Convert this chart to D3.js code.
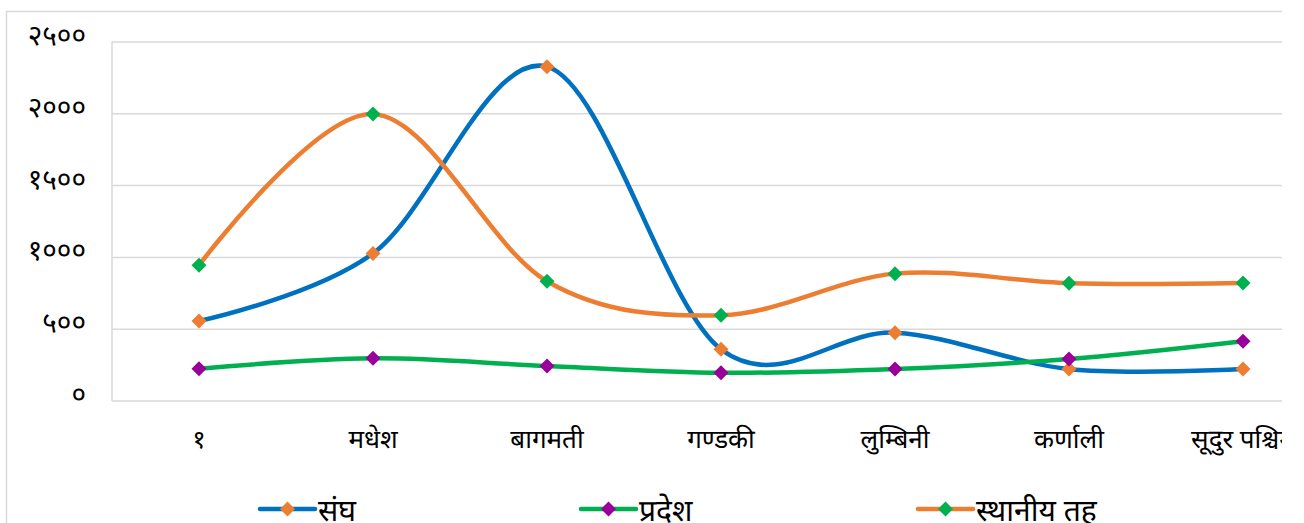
<!DOCTYPE html>
<html><head><meta charset="utf-8">
<script src="https://cdn.jsdelivr.net/npm/d3@7"></script>
<style>
html,body{margin:0;padding:0;background:#fff;}
svg{display:block;overflow:hidden;}
text{font-family:"Noto Sans Devanagari","Noto Sans","Lohit Devanagari","FreeSans",sans-serif;fill:#000;}
</style></head>
<body>
<script>
const categories = ["१","मधेश","बागमती","गण्डकी","लुम्बिनी","कर्णाली","सूदुर पश्चिम"];
const sangh = [557, 1028, 2328, 360, 476, 223, 223];
const pradesh = [225, 297, 244, 197, 223, 292, 416];
const sthaniya = [945, 1999, 834, 597, 887, 820, 822];
const seriesNames = ["संघ","प्रदेश","स्थानीय तह"];
const yTicks = [0,500,1000,1500,2000,2500];
const yTickLabels = ["०","५००","१०००","१५००","२०००","२५००"];

const W = 1282, H = 523;
const svg = d3.select("body").append("svg").attr("width", W).attr("height", H);

// outer chart border
svg.append("rect").attr("x",6.5).attr("y",11.5).attr("width",1400).attr("height",600)
  .attr("fill","none").attr("stroke","#D9D9D9").attr("stroke-width",1.5);

const plotL = 112, plotR = 1330, plotT = 42, plotB = 401;
const x = d3.scaleBand().domain(categories).range([plotL, plotR]);
const y = d3.scaleLinear().domain([0,2500]).range([plotB, plotT]);
const cx = c => x(c) + x.bandwidth()/2;

// gridlines
svg.append("g").selectAll("line").data(yTicks).join("line")
  .attr("x1",plotL).attr("x2",plotR).attr("y1",d=>y(d)).attr("y2",d=>y(d))
  .attr("stroke","#D9D9D9").attr("stroke-width",1.5);
svg.append("line").attr("x1",plotL).attr("x2",plotL).attr("y1",plotT).attr("y2",plotB)
  .attr("stroke","#D9D9D9").attr("stroke-width",1.5);

// y labels
svg.append("g").selectAll("text").data(yTicks).join("text")
  .attr("x",86).attr("y",d=>y(d)+3)
  .attr("text-anchor","end").attr("font-size",28)
  .text((d,i)=>yTickLabels[i]);

// x labels
svg.append("g").selectAll("text").data(categories).join("text")
  .attr("x",d=>cx(d)).attr("y",448).attr("text-anchor","middle").attr("font-size",26)
  .text(d=>d);

const series = [
  {name: seriesNames[0], values: sangh, line:"#0070C0", marker:"#ED7D31"},
  {name: seriesNames[1], values: pradesh, line:"#00B050", marker:"#990099"},
  {name: seriesNames[2], values: sthaniya, line:"#ED7D31", marker:"#00B050"}
];
const lineGen = d3.line().x((d,i)=>cx(categories[i])).y(d=>y(d)).curve(d3.curveCatmullRom.alpha(0));
const diamond = (px,py,r) => `M${px},${py-r}L${px+r},${py}L${px},${py+r}L${px-r},${py}Z`;

series.forEach(s=>{
  svg.append("path").attr("d",lineGen(s.values)).attr("fill","none")
    .attr("stroke",s.line).attr("stroke-width",4.5).attr("stroke-linecap","round");
});
series.forEach(s=>{
  svg.append("g").selectAll("path").data(s.values).join("path")
    .attr("d",(d,i)=>diamond(cx(categories[i]), y(d), 7.5)).attr("fill",s.marker);
});

// legend
const legX = [260, 581, 918];
const legY = 509;
series.forEach((s,i)=>{
  const g = svg.append("g");
  g.append("line").attr("x1",legX[i]).attr("x2",legX[i]+55).attr("y1",legY).attr("y2",legY)
    .attr("stroke",s.line).attr("stroke-width",4.5).attr("stroke-linecap","round");
  g.append("path").attr("d",diamond(legX[i]+27.5,legY,7.5)).attr("fill",s.marker);
  g.append("text").attr("x",legX[i]+58).attr("y",legY+12).attr("font-size",30).text(s.name);
});
</script>
</body></html>
